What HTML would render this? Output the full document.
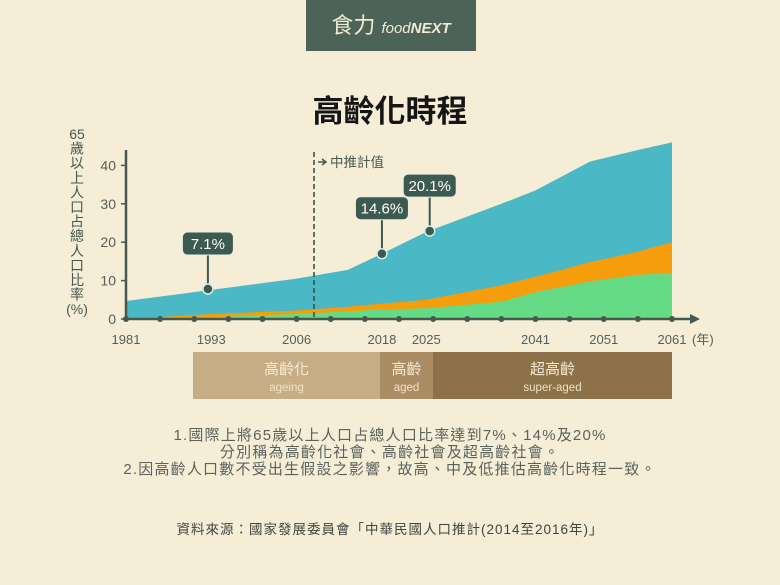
<!DOCTYPE html>
<html><head><meta charset="utf-8"><style>
body{margin:0;width:780px;height:585px;background:#f6edd7;font-family:"Liberation Sans","Noto Sans CJK TC",sans-serif;overflow:hidden}
svg{position:absolute;left:0;top:0}
text{font-family:"Liberation Sans","Noto Sans CJK TC",sans-serif}
</style></head><body>
<svg id="c" width="780" height="585">
<rect x="306" y="0" width="170" height="51" fill="#4b6457"/>
<text x="391" y="33" text-anchor="middle" fill="#f3ead5" font-size="22" font-family="Noto Serif CJK SC,serif">食力 <tspan font-size="15" font-style="italic">food</tspan><tspan font-size="15" font-weight="bold" font-style="italic">NEXT</tspan></text>
<text x="390" y="122" text-anchor="middle" font-size="31" font-weight="bold" fill="#151515">高齡化時程</text>
<g id="plot"></g>
</svg>
<script>
const xIndex=[0,2.5,5,6.5,7.5,8.8,11,12,13.6,15,16];
const totalVals=[4.7,7.6,10.5,12.8,17,22.7,30,33.5,41,44,46];
const orangeVals=[0,1.3,2.2,3.2,4,5,8.8,11,14.8,17.5,20];
const greenVals=[0,0.5,1.3,2,2.5,2.8,4.5,7,9.8,11.5,12];
const tickYears=["1981","1993","2006","2018","2025","2041","2051","2061"];
const tickIdx=[0,2.5,5,7.5,8.8,12,14,16];
const yTicks=[0,10,20,30,40];
const callLabels=["7.1%","14.6%","20.1%"];
const callIdx=[2.4,7.5,8.9];
const callVals=[7.8,17,22.9];
const X=i=>126+i*34.125, Y=v=>319-v*3.84;
const ns="http://www.w3.org/2000/svg", g=document.getElementById('plot');
function mk(t,a,p){const e=document.createElementNS(ns,t);for(const k in a)e.setAttribute(k,a[k]);(p||g).appendChild(e);return e;}
function area(vals,fill,name){let d="M"+X(0)+","+Y(0);xIndex.forEach((i,k)=>d+=" L"+X(i)+","+Y(vals[k]));d+=" L"+X(16)+","+Y(0)+"Z";const e=mk('path',{d:d,fill:fill});

}
area(totalVals,"#4ab8c5","area-total");
area(orangeVals,"#f69d0c","area-75plus");
area(greenVals,"#66db86","area-85plus");
let ax=mk('line',{x1:126,y1:150,x2:126,y2:319,stroke:"#46594f","stroke-width":2.5});

let xa=mk('line',{x1:126,y1:319,x2:693,y2:319,stroke:"#46594f","stroke-width":2.5});

mk('path',{d:"M700,319 L690,314 L690,324Z",fill:"#46594f"});
for(let i=0;i<=16;i++){const c=mk('circle',{cx:X(i),cy:319,r:3,fill:"#46594f"});}
yTicks.forEach(v=>{mk('line',{x1:121,y1:Y(v),x2:126,y2:Y(v),stroke:"#46594f","stroke-width":1.5});
const t=mk('text',{x:116,y:Y(v)+5,"text-anchor":"end","font-size":14,fill:"#54605a"});t.textContent=v;
});
tickYears.forEach((y,k)=>{const t=mk('text',{x:X(tickIdx[k]),y:344,"text-anchor":"middle","font-size":13,fill:"#54605a"});t.textContent=y;
});
let yr=mk('text',{x:692,y:344,"font-size":13,fill:"#54605a"});yr.textContent="(年)";

const yt=["65","歲","以","上","人","口","占","總","人","口","比","率","(%)"];
yt.forEach((c,k)=>{const t=mk('text',{x:77,y:139+k*14.6,"text-anchor":"middle","font-size":14,fill:"#46594f"});t.textContent=c;
});
let dl=mk('line',{x1:314,y1:152,x2:314,y2:319,stroke:"#2f4a40","stroke-width":1.5,"stroke-dasharray":"5,3"});

mk('path',{d:"M318,162 L325,162 M322,159 L326,162 L322,165",stroke:"#46594f",fill:"none","stroke-width":1.5});
let pl=mk('text',{x:330,y:167,"font-size":13.5,fill:"#46594f"});pl.textContent="中推計值";

callLabels.forEach((l,k)=>{const cx=X(callIdx[k]),cy=Y(callVals[k]),w=l.length>4?53:51,by=cy-35;
mk('line',{x1:cx,y1:by,x2:cx,y2:cy,stroke:"#3c5a50","stroke-width":2});
const r=mk('rect',{x:cx-w/2,y:by-22,width:w,height:23,rx:5,fill:"#3c5a50",stroke:"#e8efe8","stroke-width":1});

mk('circle',{cx:cx,cy:cy,r:5,fill:"#3c5a50",stroke:"#d7ece9","stroke-width":1.5});
const t=mk('text',{x:cx,y:by-5,"text-anchor":"middle","font-size":15,fill:"#fff"});t.textContent=l;
});
const stages=[[193,380,"#c6ad86","高齡化","ageing","stage-ageing"],[380,433,"#ab8d64","高齡","aged","stage-aged"],[433,672,"#8c7149","超高齡","super-aged","stage-super-aged"]];
stages.forEach(s=>{const r=mk('rect',{x:s[0],y:352,width:s[1]-s[0],height:47,fill:s[2]});

const m=(s[0]+s[1])/2;const a=mk('text',{x:m,y:374,"text-anchor":"middle","font-size":15,fill:"#f5ead4"});a.textContent=s[3];

const b=mk('text',{x:m,y:391,"text-anchor":"middle","font-size":11.5,fill:"#efe2c6"});b.textContent=s[4];
});
const notes=[[390,440,"1.國際上將65歲以上人口占總人口比率達到7%、14%及20%"],[390,457,"分別稱為高齡化社會、高齡社會及超高齡社會。"],[390,474,"2.因高齡人口數不受出生假設之影響，故高、中及低推估高齡化時程一致。"]];
notes.forEach(n=>{const t=mk('text',{x:n[0],y:n[1],"text-anchor":"middle","font-size":15,fill:"#5b625d","letter-spacing":"1.2"});t.textContent=n[2];
});
const src=mk('text',{x:390,y:534,"text-anchor":"middle","font-size":13.5,fill:"#3f4540","letter-spacing":"1"});src.textContent="資料來源：國家發展委員會「中華民國人口推計(2014至2016年)」";

</script>
</body></html>
